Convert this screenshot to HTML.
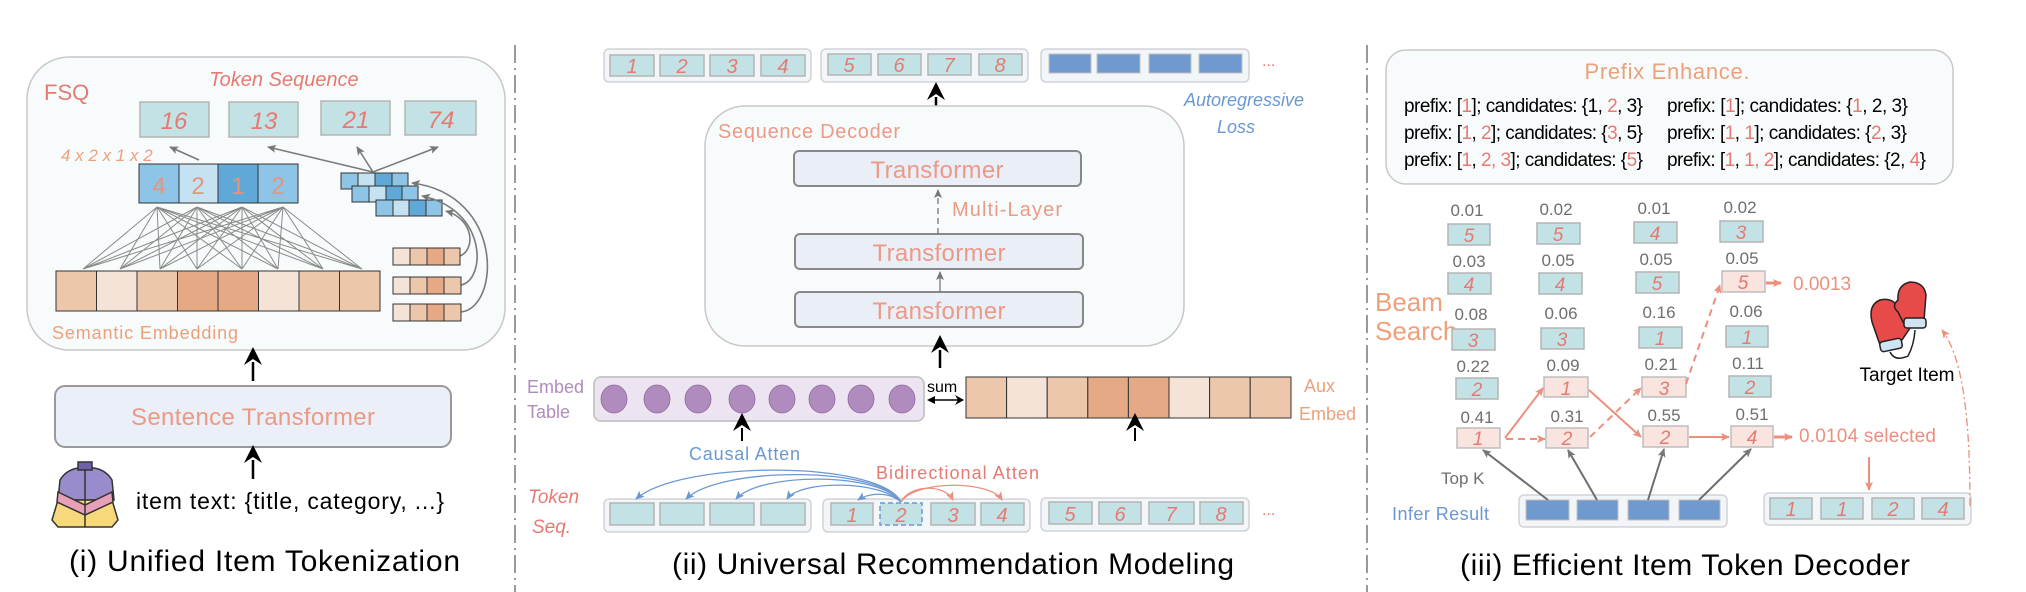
<!DOCTYPE html>
<html><head><meta charset="utf-8"><style>
html,body{margin:0;padding:0;background:#fff;}
svg{display:block;}
text{font-family:"Liberation Sans",sans-serif;}
.s{fill:#e57a72;font-style:italic;}
.cell{fill:#c3e2e6;stroke:#b4b4b4;stroke-width:1.5;}
.pcell{fill:#f9e4df;stroke:#bdbdbd;stroke-width:1.5;}
.grp{fill:#f3f6f8;stroke:#d0d4d8;stroke-width:1.5;}
.g{fill:#6e6e6e;}
</style></head><body>
<svg width="2026" height="592" viewBox="0 0 2026 592" xmlns="http://www.w3.org/2000/svg">
<defs>
<marker id="ab" markerWidth="10" markerHeight="10" refX="8" refY="5" orient="auto" markerUnits="userSpaceOnUse"><path d="M0,0 L9,5 L0,10 L3,5 z" fill="#000"/></marker>
<marker id="ag" markerWidth="10" markerHeight="10" refX="8" refY="5" orient="auto" markerUnits="userSpaceOnUse"><path d="M0,1 L9,5 L0,9 L2,5 z" fill="#777"/></marker>
<marker id="ar" markerWidth="10" markerHeight="10" refX="8" refY="5" orient="auto" markerUnits="userSpaceOnUse"><path d="M0,1 L9,5 L0,9 L2,5 z" fill="#ec8f7e"/></marker>
<marker id="abl" markerWidth="10" markerHeight="10" refX="8" refY="5" orient="auto" markerUnits="userSpaceOnUse"><path d="M0,1 L9,5 L0,9 L2,5 z" fill="#6a98d4"/></marker>
<marker id="big" markerWidth="22" markerHeight="22" refX="3" refY="11" orient="auto" markerUnits="userSpaceOnUse"><path d="M0,2 L18,11 L0,20 L6,11 z" fill="#000"/></marker>
</defs>

<line x1="515" y1="45" x2="515" y2="592" stroke="#999" stroke-width="2" stroke-dasharray="18,5,2,5"/>
<line x1="1367" y1="45" x2="1367" y2="592" stroke="#999" stroke-width="2" stroke-dasharray="18,5,2,5"/>

<!-- ===== Panel 1 ===== -->
<rect x="27" y="57" width="478" height="293" rx="42" fill="#f8fbfb" stroke="#c8c8c8" stroke-width="1.5"/>
<text x="44" y="100" font-size="22" fill="#e57a72">FSQ</text>
<text x="284" y="86" font-size="20" class="s" text-anchor="middle">Token Sequence</text>
<g font-size="24" class="s" text-anchor="middle">
<rect x="140" y="102" width="69" height="35" class="cell"/><text x="174" y="129" class="s">16</text>
<rect x="229" y="102" width="69" height="35" class="cell"/><text x="264" y="129" class="s">13</text>
<rect x="321" y="101" width="69" height="34" class="cell"/><text x="356" y="128" class="s">21</text>
<rect x="405" y="101" width="71" height="34" class="cell"/><text x="441" y="128" class="s">74</text>
</g>
<text x="61" y="161" font-size="17" font-style="italic" fill="#eda07a">4 x 2 x 1 x 2</text>
<g stroke="#8a8a8a" stroke-width="1">
<path d="M157,207L83,269M157,207L120,269M157,207L160,269M157,207L197,269M157,207L242,269M157,207L278,269M157,207L323,269M157,207L362,269
M197,207L83,269M197,207L120,269M197,207L160,269M197,207L197,269M197,207L242,269M197,207L278,269M197,207L323,269M197,207L362,269
M242,207L83,269M242,207L120,269M242,207L160,269M242,207L197,269M242,207L242,269M242,207L278,269M242,207L323,269M242,207L362,269
M283,207L83,269M283,207L120,269M283,207L160,269M283,207L197,269M283,207L242,269M283,207L278,269M283,207L323,269M283,207L362,269"/>
</g>
<g stroke="#333" stroke-width="1">
<rect x="139" y="164" width="40" height="39" fill="#8ec5e6"/>
<rect x="179" y="164" width="39" height="39" fill="#c5e2f2"/>
<rect x="218" y="164" width="40" height="39" fill="#5fa8d8"/>
<rect x="258" y="164" width="40" height="39" fill="#8ec5e6"/>
</g>
<g font-size="24" fill="#e8937a" text-anchor="middle"><text x="159" y="194">4</text><text x="198" y="194">2</text><text x="238" y="194">1</text><text x="278" y="194">2</text></g>
<g stroke="#333" stroke-width="1">
<rect x="341" y="173" width="17" height="16" fill="#8ec5e6"/><rect x="358" y="173" width="17" height="16" fill="#c5e2f2"/><rect x="375" y="173" width="17" height="16" fill="#5fa8d8"/><rect x="392" y="173" width="16" height="16" fill="#8ec5e6"/>
<rect x="352" y="186" width="17" height="16" fill="#8ec5e6"/><rect x="369" y="186" width="17" height="16" fill="#c5e2f2"/><rect x="386" y="186" width="16" height="16" fill="#5fa8d8"/><rect x="402" y="186" width="16" height="16" fill="#8ec5e6"/>
<rect x="376" y="200" width="17" height="16" fill="#8ec5e6"/><rect x="393" y="200" width="16" height="16" fill="#c5e2f2"/><rect x="409" y="200" width="17" height="16" fill="#5fa8d8"/><rect x="426" y="200" width="16" height="16" fill="#8ec5e6"/>
</g>
<g stroke="#7a7a7a" stroke-width="1.6" fill="none" marker-end="url(#ag)">
<line x1="199" y1="160" x2="170" y2="147"/>
<line x1="373" y1="172" x2="268" y2="147"/>
<line x1="373" y1="172" x2="357" y2="147"/>
<line x1="373" y1="172" x2="438" y2="147"/>
<path d="M460,256 C475,250 475,220 446,211"/>
<path d="M461,285 C486,280 488,210 422,196"/>
<path d="M461,312 C500,308 505,195 412,183"/>
</g>
<g stroke="#333" stroke-width="1">
<rect x="56" y="271" width="40.5" height="40" fill="#edc7ac"/><rect x="96.5" y="271" width="40.5" height="40" fill="#f6e3d7"/><rect x="137" y="271" width="40.5" height="40" fill="#edc7ac"/><rect x="177.5" y="271" width="40.5" height="40" fill="#e5a985"/><rect x="218" y="271" width="40.5" height="40" fill="#e5a985"/><rect x="258.5" y="271" width="40.5" height="40" fill="#f6e3d7"/><rect x="299" y="271" width="40.5" height="40" fill="#edc7ac"/><rect x="339.5" y="271" width="40.5" height="40" fill="#edc7ac"/>
</g>
<g stroke="#333" stroke-width="1">
<rect x="393" y="248" width="17" height="17" fill="#f6e3d7"/><rect x="410" y="248" width="17" height="17" fill="#edc7ac"/><rect x="427" y="248" width="17" height="17" fill="#e5a985"/><rect x="444" y="248" width="16" height="17" fill="#edc7ac"/>
<rect x="393" y="277" width="17" height="17" fill="#f6e3d7"/><rect x="410" y="277" width="17" height="17" fill="#edc7ac"/><rect x="427" y="277" width="17" height="17" fill="#e5a985"/><rect x="444" y="277" width="17" height="17" fill="#edc7ac"/>
<rect x="393" y="304" width="17" height="17" fill="#f6e3d7"/><rect x="410" y="304" width="17" height="17" fill="#edc7ac"/><rect x="427" y="304" width="17" height="17" fill="#e5a985"/><rect x="444" y="304" width="17" height="17" fill="#edc7ac"/>
</g>
<text x="52" y="339" font-size="18" fill="#eda07a" textLength="186">Semantic Embedding</text>
<line x1="253" y1="381" x2="253" y2="362" stroke="#000" stroke-width="2.5" marker-end="url(#big)"/>
<rect x="55" y="386" width="396" height="61" rx="10" fill="#ebeff7" stroke="#999" stroke-width="2"/>
<text x="253" y="425" font-size="24" fill="#eb9a86" text-anchor="middle" textLength="244">Sentence Transformer</text>
<line x1="253" y1="479" x2="253" y2="460" stroke="#000" stroke-width="2.5" marker-end="url(#big)"/>
<g stroke="#333" stroke-width="1.5">
<path d="M58,500 L60,480 Q66,470 78,468 L94,468 Q106,470 112,480 L114,500 Z" fill="#9a8ccc"/>
<path d="M58,500 L112,500 L118,520 L112,527 L58,527 L52,520 Z" fill="#f7d87a"/>
<path d="M58,492 L85,505 L112,492 L113,502 L85,515 L57,502 Z" fill="#e8a0b8"/>
<rect x="78" y="462" width="14" height="8" fill="#6f62a8"/>
<line x1="85" y1="470" x2="85" y2="527"/>
</g>
<text x="136" y="509" font-size="23" fill="#000" textLength="308">item text: {title, category, ...}</text>
<text x="69" y="571" font-size="30" fill="#000" textLength="391">(i) Unified Item Tokenization</text>

<!-- ===== Panel 2 ===== -->
<rect x="604" y="49" width="207" height="33" rx="5" class="grp"/>
<rect x="821" y="49" width="207" height="33" rx="5" class="grp"/>
<rect x="1041" y="49" width="208" height="33" rx="5" class="grp"/>
<g font-size="20" class="s" text-anchor="middle">
<rect x="610" y="55" width="44" height="21" class="cell"/><text x="632" y="73" class="s">1</text>
<rect x="660" y="55" width="44" height="21" class="cell"/><text x="682" y="73" class="s">2</text>
<rect x="710" y="55" width="44" height="21" class="cell"/><text x="732" y="73" class="s">3</text>
<rect x="761" y="55" width="44" height="21" class="cell"/><text x="783" y="73" class="s">4</text>
<rect x="828" y="54" width="43" height="21" class="cell"/><text x="849" y="72" class="s">5</text>
<rect x="878" y="54" width="43" height="21" class="cell"/><text x="899" y="72" class="s">6</text>
<rect x="928" y="54" width="43" height="21" class="cell"/><text x="949" y="72" class="s">7</text>
<rect x="979" y="54" width="43" height="21" class="cell"/><text x="1000" y="72" class="s">8</text>
</g>
<g fill="#7099cf" stroke="#c0c0c0"><rect x="1049" y="54" width="42" height="19"/><rect x="1097" y="54" width="43" height="19"/><rect x="1149" y="54" width="42" height="19"/><rect x="1199" y="54" width="43" height="19"/></g>
<text x="1262" y="66" font-size="16" fill="#e57a72">...</text>
<text x="1244" y="106" font-size="18" font-style="italic" fill="#6a98d4" text-anchor="middle">Autoregressive</text>
<text x="1236" y="133" font-size="18" font-style="italic" fill="#6a98d4" text-anchor="middle">Loss</text>
<line x1="936" y1="115" x2="936" y2="97" stroke="#000" stroke-width="2.5" marker-end="url(#big)"/>
<rect x="705" y="106" width="479" height="240" rx="40" fill="#f8fbfb" stroke="#c8c8c8" stroke-width="1.5"/>
<text x="718" y="138" font-size="20" fill="#eb9a86" textLength="182">Sequence Decoder</text>
<rect x="794" y="151" width="287" height="35" rx="5" fill="#e9eef7" stroke="#888" stroke-width="2"/>
<rect x="795" y="234" width="288" height="35" rx="5" fill="#e9eef7" stroke="#888" stroke-width="2"/>
<rect x="795" y="292" width="288" height="35" rx="5" fill="#e9eef7" stroke="#888" stroke-width="2"/>
<g font-size="24" fill="#eb9a86" text-anchor="middle"><text x="937" y="178" textLength="133">Transformer</text><text x="939" y="261" textLength="133">Transformer</text><text x="939" y="319" textLength="133">Transformer</text></g>
<line x1="938" y1="234" x2="938" y2="190" stroke="#777" stroke-width="1.3" stroke-dasharray="6,4" marker-end="url(#ag)"/>
<line x1="940" y1="292" x2="940" y2="272" stroke="#777" stroke-width="1.3" marker-end="url(#ag)"/>
<text x="952" y="216" font-size="20" fill="#eb9a86" textLength="110">Multi-Layer</text>
<line x1="940" y1="368" x2="940" y2="350" stroke="#000" stroke-width="2.5" marker-end="url(#big)"/>
<text x="527" y="393" font-size="18" fill="#b08bbe">Embed</text>
<text x="527" y="418" font-size="18" fill="#b08bbe">Table</text>
<rect x="594" y="377" width="330" height="44" rx="7" fill="#ede4f1" stroke="#c8c8c8" stroke-width="2"/>
<g fill="#b08bbe" stroke="#8d6a9c" stroke-width="0.8">
<ellipse cx="614" cy="399" rx="13" ry="14"/><ellipse cx="657" cy="399" rx="13" ry="14"/><ellipse cx="698" cy="399" rx="13" ry="14"/><ellipse cx="742" cy="399" rx="13" ry="14"/><ellipse cx="782" cy="399" rx="13" ry="14"/><ellipse cx="822" cy="399" rx="13" ry="14"/><ellipse cx="861" cy="399" rx="13" ry="14"/><ellipse cx="902" cy="399" rx="13" ry="14"/>
</g>
<text x="927" y="392" font-size="16" fill="#000">sum</text>
<line x1="930" y1="400" x2="963" y2="400" stroke="#000" stroke-width="1.5" marker-end="url(#ab)"/>
<path d="M927,400 L935,396 L935,404 Z" fill="#000"/>
<g stroke="#333" stroke-width="1">
<rect x="966" y="377" width="40.6" height="41" fill="#edc7ac"/><rect x="1006.6" y="377" width="40.6" height="41" fill="#f6e3d7"/><rect x="1047.2" y="377" width="40.6" height="41" fill="#edc7ac"/><rect x="1087.8" y="377" width="40.6" height="41" fill="#e5a985"/><rect x="1128.4" y="377" width="40.6" height="41" fill="#e5a985"/><rect x="1169" y="377" width="40.6" height="41" fill="#f6e3d7"/><rect x="1209.6" y="377" width="40.6" height="41" fill="#edc7ac"/><rect x="1250.2" y="377" width="40.8" height="41" fill="#edc7ac"/>
</g>
<text x="1304" y="392" font-size="18" fill="#eda07a">Aux</text>
<text x="1299" y="420" font-size="18" fill="#eda07a">Embed</text>
<line x1="742" y1="441" x2="742" y2="428" stroke="#000" stroke-width="2" marker-end="url(#big)"/>
<line x1="1135" y1="441" x2="1135" y2="428" stroke="#000" stroke-width="2" marker-end="url(#big)"/>
<text x="689" y="460" font-size="18" fill="#6a98d4" textLength="111">Causal Atten</text>
<text x="876" y="479" font-size="18" fill="#e57a72" textLength="163">Bidirectional Atten</text>
<text x="528" y="503" font-size="19" class="s">Token</text>
<text x="532" y="533" font-size="19" class="s">Seq.</text>
<rect x="604" y="499" width="207" height="33" rx="5" class="grp"/>
<rect x="823" y="499" width="207" height="33" rx="5" class="grp"/>
<rect x="1041" y="498" width="208" height="33" rx="5" class="grp"/>
<g>
<rect x="610" y="503" width="44" height="22" class="cell"/><rect x="660" y="503" width="44" height="22" class="cell"/><rect x="710" y="503" width="44" height="22" class="cell"/><rect x="761" y="503" width="44" height="22" class="cell"/>
<rect x="831" y="503" width="42" height="22" class="cell"/>
<rect x="880" y="503" width="42" height="22" fill="#c3e2e6" stroke="#6a98d4" stroke-width="1.5" stroke-dasharray="5,3"/>
<rect x="931" y="503" width="44" height="22" class="cell"/><rect x="981" y="503" width="43" height="22" class="cell"/>
<rect x="1049" y="502" width="43" height="22" class="cell"/><rect x="1099" y="502" width="42" height="22" class="cell"/><rect x="1149" y="502" width="45" height="22" class="cell"/><rect x="1200" y="502" width="43" height="22" class="cell"/>
</g>
<g font-size="20" class="s" text-anchor="middle">
<text x="852" y="522" class="s">1</text><text x="901" y="522" class="s">2</text><text x="953" y="522" class="s">3</text><text x="1002" y="522" class="s">4</text>
<text x="1070" y="521" class="s">5</text><text x="1120" y="521" class="s">6</text><text x="1171" y="521" class="s">7</text><text x="1221" y="521" class="s">8</text>
</g>
<text x="1262" y="515" font-size="16" fill="#e57a72">...</text>
<g stroke="#6a98d4" stroke-width="1.3" fill="none" marker-end="url(#abl)">
<path d="M901,502 C880,460 680,460 636,499"/>
<path d="M901,502 C880,466 720,466 686,499"/>
<path d="M901,502 C880,472 760,472 736,499"/>
<path d="M901,502 C880,480 800,480 787,499"/>
<path d="M901,502 C890,492 870,492 858,500"/>
</g>
<g stroke="#ec8f7e" stroke-width="1.3" fill="none" marker-end="url(#ar)">
<path d="M901,502 C910,484 945,484 953,500"/>
<path d="M901,502 C915,480 990,480 1002,500"/>
</g>
<text x="672" y="574" font-size="30" fill="#000" textLength="562">(ii) Universal Recommendation Modeling</text>

<!-- ===== Panel 3 ===== -->
<rect x="1386" y="50" width="567" height="134" rx="20" fill="#f8fbfb" stroke="#c8c8c8" stroke-width="1.5"/>
<text x="1667" y="79" font-size="22" fill="#eda07a" text-anchor="middle" textLength="165">Prefix Enhance.</text>
<g font-size="19" fill="#000">
<text x="1404" y="112" textLength="239">prefix: [<tspan fill="#e57a72">1</tspan>]; candidates: {1, <tspan fill="#e57a72">2</tspan>, 3}</text>
<text x="1404" y="139" textLength="239">prefix: [<tspan fill="#e57a72">1</tspan>, <tspan fill="#e57a72">2</tspan>]; candidates: {<tspan fill="#e57a72">3</tspan>, 5}</text>
<text x="1404" y="166" textLength="239">prefix: [<tspan fill="#e57a72">1</tspan>, <tspan fill="#e57a72">2, 3</tspan>]; candidates: {<tspan fill="#e57a72">5</tspan>}</text>
<text x="1667" y="112" textLength="241">prefix: [<tspan fill="#e57a72">1</tspan>]; candidates: {<tspan fill="#e57a72">1</tspan>, 2, 3}</text>
<text x="1667" y="139" textLength="240">prefix: [<tspan fill="#e57a72">1</tspan>, <tspan fill="#e57a72">1</tspan>]; candidates: {<tspan fill="#e57a72">2</tspan>, 3}</text>
<text x="1667" y="166" textLength="259">prefix: [<tspan fill="#e57a72">1</tspan>, <tspan fill="#e57a72">1, 2</tspan>]; candidates: {2, <tspan fill="#e57a72">4</tspan>}</text>
</g>
<text x="1375" y="311" font-size="26" fill="#eda07a">Beam</text>
<text x="1375" y="340" font-size="26" fill="#eda07a">Search</text>
<g font-size="17" fill="#6e6e6e" text-anchor="middle">
<text x="1467" y="216">0.01</text><text x="1556" y="215">0.02</text><text x="1654" y="214">0.01</text><text x="1740" y="213">0.02</text>
<text x="1469" y="267">0.03</text><text x="1558" y="266">0.05</text><text x="1656" y="265">0.05</text><text x="1742" y="264">0.05</text>
<text x="1471" y="320">0.08</text><text x="1561" y="319">0.06</text><text x="1659" y="318">0.16</text><text x="1746" y="317">0.06</text>
<text x="1473" y="372">0.22</text><text x="1563" y="371">0.09</text><text x="1661" y="370">0.21</text><text x="1748" y="369">0.11</text>
<text x="1477" y="423">0.41</text><text x="1567" y="422">0.31</text><text x="1664" y="421">0.55</text><text x="1752" y="420">0.51</text>
</g>
<g>
<rect x="1448" y="224" width="42" height="21" class="cell"/><rect x="1537" y="223" width="43" height="21" class="cell"/><rect x="1634" y="222" width="43" height="21" class="cell"/><rect x="1720" y="221" width="43" height="21" class="cell"/>
<rect x="1448" y="273" width="43" height="21" class="cell"/><rect x="1539" y="273" width="43" height="21" class="cell"/><rect x="1636" y="272" width="43" height="21" class="cell"/><rect x="1722" y="271" width="43" height="21" class="pcell"/>
<rect x="1452" y="329" width="43" height="21" class="cell"/><rect x="1541" y="328" width="43" height="21" class="cell"/><rect x="1639" y="327" width="43" height="21" class="cell"/><rect x="1726" y="326" width="42" height="21" class="cell"/>
<rect x="1456" y="378" width="42" height="21" class="cell"/><rect x="1544" y="377" width="44" height="20" class="pcell"/><rect x="1642" y="377" width="44" height="20" class="pcell"/><rect x="1729" y="376" width="42" height="21" class="cell"/>
<rect x="1457" y="428" width="43" height="20" class="pcell"/><rect x="1546" y="428" width="42" height="20" class="pcell"/><rect x="1643" y="426" width="45" height="21" class="pcell"/><rect x="1731" y="426" width="42" height="21" class="pcell"/>
</g>
<g font-size="19" text-anchor="middle" class="s">
<text x="1469" y="242" class="s">5</text><text x="1558" y="241" class="s">5</text><text x="1655" y="240" class="s">4</text><text x="1741" y="239" class="s">3</text>
<text x="1469" y="291" class="s">4</text><text x="1560" y="291" class="s">4</text><text x="1657" y="290" class="s">5</text><text x="1743" y="289" class="s">5</text>
<text x="1473" y="347" class="s">3</text><text x="1562" y="346" class="s">3</text><text x="1660" y="345" class="s">1</text><text x="1747" y="344" class="s">1</text>
<text x="1477" y="396" class="s">2</text><text x="1566" y="395" class="s">1</text><text x="1664" y="395" class="s">3</text><text x="1750" y="394" class="s">2</text>
<text x="1478" y="445" class="s">1</text><text x="1567" y="445" class="s">2</text><text x="1665" y="444" class="s">2</text><text x="1752" y="444" class="s">4</text>
</g>
<g stroke="#ec8f7e" stroke-width="2" fill="none" marker-end="url(#ar)">
<line x1="1505" y1="438" x2="1543" y2="388"/>
<line x1="1589" y1="390" x2="1641" y2="437"/>
<line x1="1689" y1="437" x2="1729" y2="437"/>
<line x1="1506" y1="439" x2="1545" y2="439" stroke-dasharray="7,5"/>
<line x1="1590" y1="437" x2="1641" y2="388" stroke-dasharray="7,5"/>
<line x1="1686" y1="384" x2="1720" y2="285" stroke-dasharray="7,5"/>
<line x1="1766" y1="283" x2="1781" y2="283" stroke-width="3"/>
<line x1="1774" y1="437" x2="1792" y2="437" stroke-width="3"/>
<line x1="1869" y1="457" x2="1869" y2="490"/>
</g>
<text x="1793" y="290" font-size="19" fill="#ec8f7e">0.0013</text>
<text x="1799" y="442" font-size="19" fill="#ec8f7e" textLength="137">0.0104 selected</text>
<text x="1441" y="484" font-size="17" fill="#6e6e6e">Top K</text>
<text x="1392" y="520" font-size="18" fill="#6a98d4" textLength="97">Infer Result</text>
<rect x="1519" y="495" width="208" height="32" rx="5" class="grp"/>
<g fill="#7099cf" stroke="#c0c0c0"><rect x="1526" y="500" width="43" height="20"/><rect x="1577" y="500" width="41" height="20"/><rect x="1628" y="500" width="41" height="20"/><rect x="1679" y="500" width="41" height="20"/></g>
<g stroke="#6e6e6e" stroke-width="2" marker-end="url(#ag)">
<line x1="1548" y1="500" x2="1483" y2="450"/>
<line x1="1597" y1="500" x2="1568" y2="450"/>
<line x1="1648" y1="500" x2="1664" y2="449"/>
<line x1="1699" y1="500" x2="1751" y2="449"/>
</g>
<rect x="1764" y="493" width="207" height="32" rx="5" class="grp"/>
<g font-size="20" text-anchor="middle">
<rect x="1770" y="498" width="42" height="21" class="cell"/><text x="1791" y="516" class="s">1</text>
<rect x="1821" y="498" width="42" height="21" class="cell"/><text x="1842" y="516" class="s">1</text>
<rect x="1872" y="498" width="42" height="21" class="cell"/><text x="1893" y="516" class="s">2</text>
<rect x="1922" y="498" width="42" height="21" class="cell"/><text x="1943" y="516" class="s">4</text>
</g>
<path d="M1970,506 C1970,430 1965,360 1942,330" stroke="#ec8f7e" stroke-width="1.3" fill="none" stroke-dasharray="8,3,2,3" marker-end="url(#ar)"/>
<g stroke="#222" stroke-width="1.5">
<path d="M1872,322 Q1868,305 1880,300 Q1893,297 1898,308 L1903,320 L1909,316 Q1913,318 1910,328 L1902,340 L1880,345 Z" fill="#e84a4a"/>
<rect x="1880" y="340" width="22" height="10" rx="3" fill="#cfe3f2" transform="rotate(-12 1891 345)"/>
<path d="M1898,300 Q1897,285 1910,282 Q1924,282 1926,295 L1924,320 L1904,324 L1898,312 Q1891,306 1898,300 Z" fill="#e84a4a"/>
<rect x="1904" y="318" width="22" height="10" rx="3" fill="#cfe3f2"/>
<path d="M1890,352 Q1895,362 1908,356 Q1914,345 1915,330" fill="none"/>
</g>
<text x="1907" y="381" font-size="19" fill="#000" text-anchor="middle">Target Item</text>
<text x="1460" y="575" font-size="30" fill="#000" textLength="450">(iii) Efficient Item Token Decoder</text>
</svg>
</body></html>
